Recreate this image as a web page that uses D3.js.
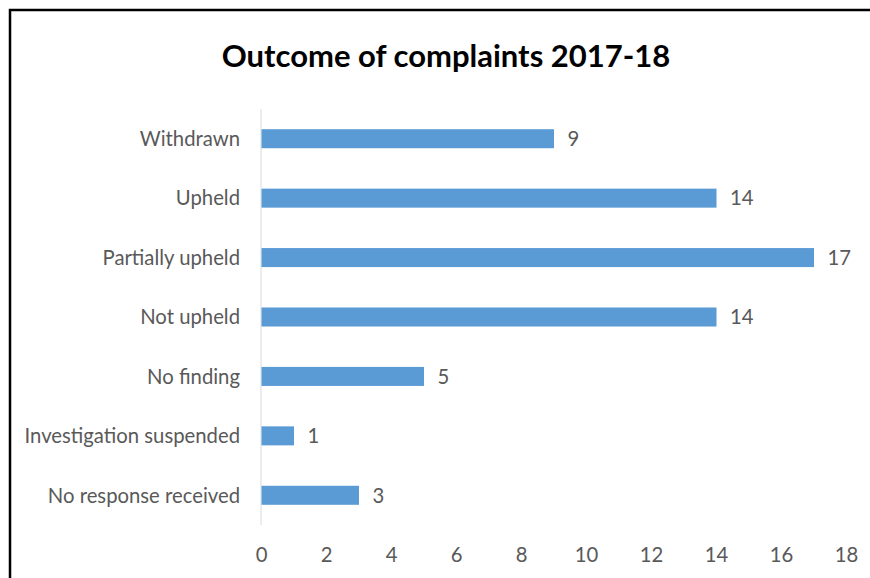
<!DOCTYPE html>
<html>
<head>
<meta charset="utf-8">
<script src="https://cdn.jsdelivr.net/npm/d3@7"></script>
<style>
  body { margin: 0; background: #fff; }
  svg { display: block; font-family: Lato, "Open Sans", sans-serif; }
</style>
</head>
<body>
<script>
const width = 870;
const height = 578;

// Data
const categories = [
  "Withdrawn",
  "Upheld",
  "Partially upheld",
  "Not upheld",
  "No finding",
  "Investigation suspended",
  "No response received"
];
const counts = [9, 14, 17, 14, 5, 1, 3];
const xTicks = [0, 2, 4, 6, 8, 10, 12, 14, 16, 18];
const title = "Outcome of complaints 2017-18";

const svg = d3.select("body")
  .append("svg")
  .attr("width", width)
  .attr("height", height)
  .attr("viewBox", [0, 0, width, height]);

// Outer frame (runs off the right and bottom of the picture)
svg.append("rect")
  .attr("x", 10)
  .attr("y", 10)
  .attr("width", 880)
  .attr("height", 600)
  .attr("fill", "#fff")
  .attr("stroke", "#000")
  .attr("stroke-width", 2.5);

const x = d3.scaleLinear()
  .domain([0, 18])
  .range([261, 846]);

const y = d3.scaleBand()
  .domain(categories)
  .range([109, 525])
  .paddingInner(0.68)
  .paddingOuter(0.34);

svg.append("text")
  .attr("x", 446)
  .attr("y", 67)
  .attr("text-anchor", "middle")
  .attr("font-size", 31)
  .attr("font-weight", "bold")
  .attr("fill", "#000")
  .text(title);

// Category axis line
svg.append("line")
  .attr("x1", x(0))
  .attr("x2", x(0))
  .attr("y1", 109)
  .attr("y2", 525)
  .attr("stroke", "#d9d9d9")
  .attr("stroke-width", 1);

const data = categories.map((c, i) => ({ cat: c, val: counts[i] }));

// Bars
svg.selectAll(".bar")
  .data(data)
  .enter()
  .append("rect")
  .attr("class", "bar")
  .attr("x", x(0) + 0.5)
  .attr("y", d => y(d.cat))
  .attr("width", d => x(d.val) - x(0))
  .attr("height", y.bandwidth())
  .attr("fill", "#5b9bd5");

// Value labels
svg.selectAll(".val")
  .data(data)
  .enter()
  .append("text")
  .attr("class", "val")
  .attr("x", d => x(d.val) + 14)
  .attr("y", d => y(d.cat) + y.bandwidth() / 2)
  .attr("dy", "0.36em")
  .attr("font-size", 20.3)
  .attr("fill", "#595959")
  .text(d => d.val);

// Category labels
svg.selectAll(".cat")
  .data(categories)
  .enter()
  .append("text")
  .attr("class", "cat")
  .attr("x", 240)
  .attr("y", d => y(d) + y.bandwidth() / 2)
  .attr("dy", "0.36em")
  .attr("text-anchor", "end")
  .attr("font-size", 20.3)
  .attr("fill", "#595959")
  .text(d => d);

// Value axis tick labels (no line, no tick marks)
const xAxis = d3.axisBottom(x)
  .tickValues(xTicks)
  .tickSize(0)
  .tickPadding(0);

const gx = svg.append("g")
  .attr("transform", "translate(0,548)")
  .call(xAxis);
gx.select(".domain").remove();
gx.selectAll("text")
  .attr("font-family", "Lato, 'Open Sans', sans-serif")
  .attr("font-size", 20.3)
  .attr("fill", "#595959");
</script>
</body>
</html>
